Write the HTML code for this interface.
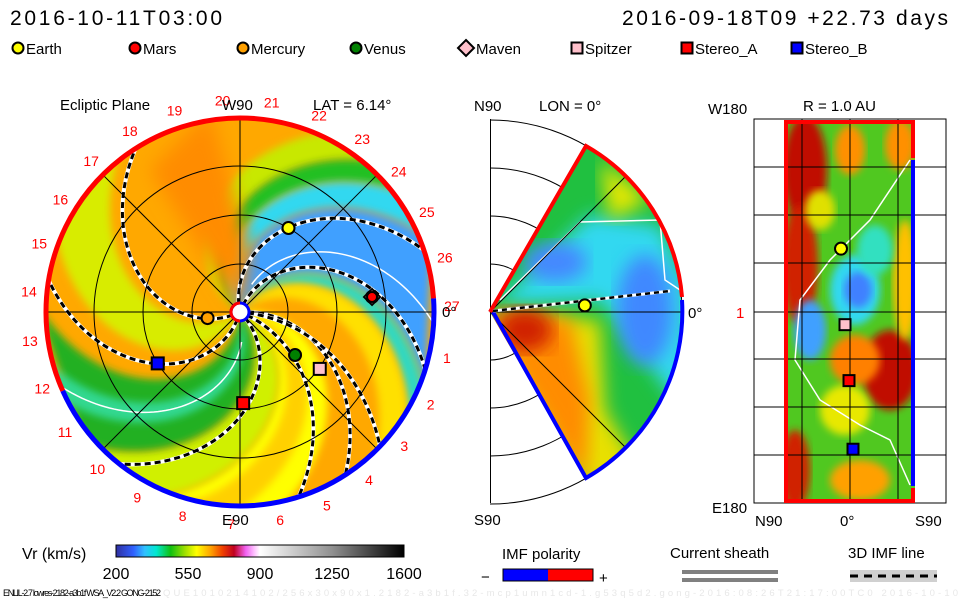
<!DOCTYPE html>
<html><head><meta charset="utf-8"><style>
body{margin:0;background:#fff}
svg{display:block}
text{font-family:"Liberation Sans",sans-serif;fill:#000}
</style></head><body>
<svg id="s" width="960" height="600" viewBox="0 0 960 600">
<defs>
<linearGradient id="cb" x1="0" x2="1" y1="0" y2="0">
<stop offset="0" stop-color="#3030a0"/><stop offset="0.06" stop-color="#3060ff"/><stop offset="0.1" stop-color="#30c0ff"/>
<stop offset="0.14" stop-color="#00e8d0"/><stop offset="0.19" stop-color="#10c010"/><stop offset="0.24" stop-color="#a0e000"/>
<stop offset="0.28" stop-color="#ffff00"/><stop offset="0.33" stop-color="#ffa000"/><stop offset="0.37" stop-color="#f04000"/>
<stop offset="0.41" stop-color="#c00020"/><stop offset="0.45" stop-color="#f060f0"/><stop offset="0.48" stop-color="#ffc0ff"/>
<stop offset="0.5" stop-color="#ffffff"/><stop offset="0.75" stop-color="#909090"/><stop offset="1" stop-color="#000000"/>
</linearGradient>
<clipPath id="cclip"><circle cx="240" cy="312" r="194"/></clipPath>
<clipPath id="wclip"><path d="M490,312 L586,146 A192,192 0 0 1 586,478 Z"/></clipPath>
<clipPath id="rclip"><rect x="785" y="122" width="130" height="380"/></clipPath>
<filter id="bl"><feGaussianBlur stdDeviation="9"/></filter>
<filter id="bl2"><feGaussianBlur stdDeviation="4"/></filter>
</defs>

<text x="10" y="25" font-size="21" textLength="212">2016-10-11T03:00</text>
<text x="622" y="25" font-size="21" textLength="326">2016-09-18T09 +22.73 days</text>

<g id="legend"></g>

<g id="ecl"></g>
<g id="mer"></g>
<g id="rad"></g>

<g>
<text x="22" y="559" font-size="16">Vr (km/s)</text>
<rect x="116" y="545" width="288" height="12" fill="url(#cb)" stroke="#000" stroke-width="1"/>
<g id="cbt"></g>
</g>
<g>
<text x="502" y="559" font-size="15">IMF polarity</text>
<text x="481" y="582" font-size="15">−</text>
<rect x="503" y="569" width="45" height="12" fill="#0000ff"/><rect x="548" y="569" width="45" height="12" fill="#ff0000"/>
<rect x="503" y="569" width="90" height="12" fill="none" stroke="#000"/>
<text x="599" y="583" font-size="15">+</text>
</g>
<g>
<text x="670" y="558" font-size="15">Current sheath</text>
<rect x="682" y="570" width="96" height="4" fill="#808080"/><rect x="682" y="578" width="96" height="4" fill="#808080"/>
</g>
<g>
<text x="848" y="558" font-size="15">3D IMF line</text>
<rect x="850" y="570" width="87" height="12" fill="#d0d0d0"/>
<line x1="850" y1="576" x2="937" y2="576" stroke="#000" stroke-width="3" stroke-dasharray="8,6"/>
</g>
<text x="3" y="596" font-size="9" textLength="158">ENLIL-2.7 lowres-2182-a3b1f WSA_V2.2 GONG-2152</text>
<text x="163" y="596" font-size="9.5" style="fill:#e8e8e8" textLength="795">QUE1010214102/256x30x90x1.2182-a3b1f.32-mcp1umn1cd-1.g53q5d2.gong-2016:08:26T21:17:00TC0    2016-10-10</text>
</svg>
<script>
const NS='http://www.w3.org/2000/svg';
function mk(p,tag,a){const e=document.createElementNS(NS,tag);for(const k in a)e.setAttribute(k,a[k]);p.appendChild(e);return e;}
// ---- data ----
const cbTicks=[200,550,900,1250,1600];
const bodies=['Earth','Mars','Mercury','Venus','Maven','Spitzer','Stereo_A','Stereo_B'];
const bodyColors=['#ffff00','#ff0000','#ffa000','#008000','#ffc0cb','#ffc0cb','#ff0000','#0000ff'];
const bodyShapes=['circle','circle','circle','circle','diamond','square','square','square'];
const bodyR=[1.0,1.37,0.34,0.72,1.37,1.01,0.94,1.0];      // AU
const bodyLon=[60,6.5,190.6,-38,6.5,-35.5,-88,-148];       // deg
const carrLabels=[1,2,3,4,5,6,7,8,9,10,11,12,13,14,15,16,17,18,19,20,21,22,23,24,25,26,27];
const bandStart=[150,135,123,108,63,53,8,-5,-27,-52,-68,-117];  // spiral band phase (deg at r=0)
const bandEnd  =[135,123,108,63,53,38,-27,-20,-52,-95,-80,-147];
const bandColor=['#c8e800','#20c020','#30d8f0','#40a0ff','#30d8c0','#ffe000','#ffff00','#ffd000','#d0f000','#20b020','#30d890','#d8ec00'];
const sheathPhase=[102,70,206,254,315,-22,3,-5];
const sheathWind=[0.43,0.45,0.43,0.43,0.43,0.26,0.31,0.2];
const merEarth=[0.99,4]; // r AU, lat deg
const radEarth=[-2,60],radSpitzer=[0,-12],radStA=[2,-65],radStB=[4,-130]; // lat, lon

const CX=240,CY=312,AU=97,RM=194;
const xy=(r,a)=>[CX+r*Math.cos(a*Math.PI/180),CY-r*Math.sin(a*Math.PI/180)];

// legend
const lg=document.getElementById('legend');
const lgX=[12,129,237,350,460,571,681,791];
bodies.forEach((b,i)=>{
  const g=mk(lg,'g',{});
  
  
  marker(g,bodyShapes[i],lgX[i]+6,48,bodyColors[i],i==4?8:5.5);
  const t=mk(g,'text',{x:lgX[i]+(i==4?16:14),y:54,'font-size':15});t.textContent=b;
});
function marker(p,shape,x,y,c,s){
  if(shape=='circle')return mk(p,'circle',{cx:x,cy:y,r:s,fill:c,stroke:'#000','stroke-width':2});
  if(shape=='square')return mk(p,'rect',{x:x-s,y:y-s,width:2*s,height:2*s,fill:c,stroke:'#000','stroke-width':2});
  return mk(p,'path',{d:`M${x},${y-s}L${x+s},${y}L${x},${y+s}L${x-s},${y}Z`,fill:c,stroke:'#000','stroke-width':2});
}

// ecliptic
const E=document.getElementById('ecl');
const field=mk(E,'g',{'clip-path':'url(#cclip)'});
mk(field,'circle',{cx:CX,cy:CY,r:RM,fill:'#ffa800'});
bandStart.forEach((s,i)=>{
  const pts=[];
  for(let r=4;r<=RM+10;r+=4)pts.push(xy(r,s-0.43*r));
  for(let r=RM+10;r>=4;r-=4)pts.push(xy(r,bandEnd[i]-0.43*r));
  const p=mk(field,'path',{d:'M'+pts.map(q=>q.join(',')).join('L')+'Z',fill:bandColor[i],filter:'url(#bl2)'});
  
  
});
mk(field,'path',{d:'M240,312 L150,170 L210,110 L250,250 Z',fill:'#ff8c00',filter:'url(#bl)'});
[[-74],[80]].forEach(d=>{const pts=[];for(let r=30;r<=RM+5;r+=3)pts.push(xy(r,d[0]-0.43*r));
  mk(field,'path',{d:'M'+pts.map(q=>q.join(',')).join('L'),fill:'none',stroke:'#fff','stroke-width':1.5});});
sheathPhase.forEach((s,i)=>{
  const pts=[];for(let r=8;r<=RM;r+=3)pts.push(xy(r,s-sheathWind[i]*r));
  const d='M'+pts.map(q=>q.join(',')).join('L');
  mk(field,'path',{d,fill:'none',stroke:'#fff','stroke-width':4});
  const l=mk(field,'path',{d,fill:'none',stroke:'#000','stroke-width':3,'stroke-dasharray':'6,4'});
  
  
});
[48,97,146].forEach(r=>mk(E,'circle',{cx:CX,cy:CY,r,fill:'none',stroke:'#000','stroke-width':1}));
[0,45,90,135].forEach(a=>{const p=xy(RM,a),q=xy(RM,a+180);mk(E,'line',{x1:p[0],y1:p[1],x2:q[0],y2:q[1],stroke:'#000','stroke-width':1});});
const arc=(a1,a2,c)=>{const p=xy(RM,a1),q=xy(RM,a2);return mk(E,'path',{d:`M${p[0]},${p[1]}A${RM},${RM} 0 ${(a2-a1)>180?1:0} 0 ${q[0]},${q[1]}`,fill:'none',stroke:c,'stroke-width':5});};
arc(4,204,'#ff0000');arc(204,364,'#0000ff');
mk(E,'circle',{cx:CX,cy:CY,r:9,fill:'#fff',stroke:'#0000ff','stroke-width':3});
mk(E,'path',{d:'M240,303 A9,9 0 0 0 240,321',fill:'none',stroke:'#ff0000','stroke-width':3});
carrLabels.forEach((n,i)=>{const a=-12.6-i*13.3,p=xy(212,a);const t=mk(E,'text',{x:p[0],y:p[1]+5,'font-size':14,'text-anchor':'middle',style:'fill:#ff0000'});t.textContent=n;
  });
[['Ecliptic Plane',60,110],['W90',222,110],['LAT = 6.14°',313,110],['E90',222,525],['0°',442,317]].forEach(d=>{const t=mk(E,'text',{x:d[1],y:d[2],'font-size':15});t.textContent=d[0];});
bodies.forEach((b,i)=>{const p=xy(bodyR[i]*AU,bodyLon[i]);const m=marker(E,bodyShapes[i],p[0],p[1],bodyColors[i],i==4?8:6);
  });
{const p=xy(bodyR[1]*AU,bodyLon[1]);marker(E,'circle',p[0],p[1],'#ff0000',5);}

// meridional
const M=document.getElementById('mer');const MX=490,MY=312;
mk(M,'rect',{x:490,y:119,width:1,height:384,fill:'#000'});
[48,96,144,192].forEach(r=>mk(M,'path',{d:`M${MX},${MY-r}A${r},${r} 0 0 1 ${MX},${MY+r}`,fill:'none',stroke:'#000'}));
const wf=mk(M,'g',{'clip-path':'url(#wclip)'});
mk(wf,'rect',{x:480,y:110,width:220,height:400,fill:'#20c040'});
mk(wf,'path',{d:'M495,305 L590,215 L660,225 L690,290 L690,420 L600,300 Z',fill:'#30d8f0',filter:'url(#bl)'});
mk(wf,'ellipse',{cx:645,cy:310,rx:28,ry:55,fill:'#4088ff',filter:'url(#bl)'});
mk(wf,'ellipse',{cx:555,cy:262,rx:32,ry:20,fill:'#4488ff',filter:'url(#bl)'});
mk(wf,'path',{d:'M600,160 L650,200 L610,220 Z',fill:'#e8e800',filter:'url(#bl)'});
mk(wf,'path',{d:'M490,314 L600,320 L605,410 L640,470 L586,490 L490,330Z',fill:'#e8e000',filter:'url(#bl)'});
mk(wf,'path',{d:'M490,314 L570,318 L590,400 L586,485 L490,330Z',fill:'#ff8c00',filter:'url(#bl)'});
mk(wf,'ellipse',{cx:525,cy:330,rx:28,ry:22,fill:'#d02000',filter:'url(#bl)'});
mk(wf,'path',{d:'M500,300 L580,222 L660,220 L665,280 L680,290',fill:'none',stroke:'#fff','stroke-width':1.5});
[45,-45].forEach(d=>{const a=d*Math.PI/180;mk(M,'line',{x1:MX,y1:MY,x2:MX+192*Math.cos(a),y2:MY-192*Math.sin(a),stroke:'#000'});});
mk(M,'line',{x1:490,y1:312,x2:683,y2:312,stroke:'#000'});
mk(M,'path',{d:'M490,312 L586,146 A192,192 0 0 1 682,297',fill:'none',stroke:'#ff0000','stroke-width':4});
mk(M,'path',{d:'M682,300 A192,192 0 0 1 586,478 L493,312',fill:'none',stroke:'#0000ff','stroke-width':4});
mk(M,'path',{d:'M493,311 L670,291',stroke:'#fff','stroke-width':3,fill:'none'});
mk(M,'path',{d:'M493,311 L670,291',stroke:'#000','stroke-width':2.5,'stroke-dasharray':'5,4',fill:'none'});
{const r=merEarth[0]*96,a=merEarth[1]*Math.PI/180;const m=marker(M,'circle',MX+r*Math.cos(a),MY-r*Math.sin(a),'#ffff00',6);}
[['N90',474,111],['LON = 0°',539,111],['0°',688,318],['S90',474,525]].forEach(d=>{const t=mk(M,'text',{x:d[1],y:d[2],'font-size':15});t.textContent=d[0];});

// radial
const R=document.getElementById('rad');
mk(R,'rect',{x:754,y:119,width:192,height:384,fill:'none',stroke:'#000'});
const rf=mk(R,'g',{'clip-path':'url(#rclip)'});
mk(rf,'rect',{x:785,y:122,width:130,height:380,fill:'#50c820'});
[[805,170,22,55,'#c01000'],[850,150,15,25,'#ff9000'],[900,145,15,25,'#ff9000'],[800,265,18,60,'#d02000'],[890,370,28,40,'#c01000'],[855,360,25,25,'#ff8000'],
 [795,470,15,40,'#d02000'],[860,480,30,20,'#ffa000'],[845,410,25,25,'#e8e800'],[905,280,12,60,'#ffc000'],[820,210,15,20,'#e0e000'],
 [855,290,25,35,'#30d8f0'],[858,290,14,18,'#4080ff'],[810,330,16,30,'#40a0ff'],[875,250,18,25,'#30e0c0']].forEach(b=>mk(rf,'ellipse',{cx:b[0],cy:b[1],rx:b[2],ry:b[3],fill:b[4],filter:'url(#bl2)'}));
mk(rf,'path',{d:'M910,160 L870,220 L830,260 L800,300 L795,360 L820,400 L860,425 L890,440 L910,485',fill:'none',stroke:'#fff','stroke-width':1.5});
[167,215,263,312,359,407,455].forEach(y=>mk(R,'line',{x1:754,y1:y,x2:946,y2:y,stroke:'#000'}));
[802,850,898].forEach(x=>mk(R,'line',{x1:x,y1:119,x2:x,y2:503,stroke:'#000'}));
mk(R,'path',{d:'M913,158 L913,122 L786,122 L786,501 L913,501 L913,488',fill:'none',stroke:'#ff0000','stroke-width':4});
mk(R,'line',{x1:913,y1:160,x2:913,y2:486,stroke:'#0000ff','stroke-width':4});
const ry=lon=>312-lon*(190/180);
[[radEarth,'circle','#ffff00','radial-earth'],[radSpitzer,'square','#ffc0cb','radial-spitzer'],[radStA,'square','#ff0000','radial-stereo-a'],[radStB,'square','#0000ff','radial-stereo-b']].forEach(d=>{
  const m=marker(R,d[1],845+d[0][0]*2,ry(d[0][1]),d[2],d[1]=='circle'?6:5.5);});
[['W180',708,114,'#000'],['R = 1.0 AU',803,111,'#000'],['1',736,318,'#ff0000'],['E180',712,513,'#000'],['N90',755,526,'#000'],['0°',840,526,'#000'],['S90',915,526,'#000']].forEach(d=>{const t=mk(R,'text',{x:d[1],y:d[2],'font-size':15,style:'fill:'+d[3]});t.textContent=d[0];});

const cbt=document.getElementById('cbt');
cbTicks.forEach(v=>{const x=116+(v-200)/1400*288;const t=mk(cbt,'text',{x,y:579,'font-size':16,'text-anchor':'middle'});t.textContent=v;
  });
</script>
</body></html>
